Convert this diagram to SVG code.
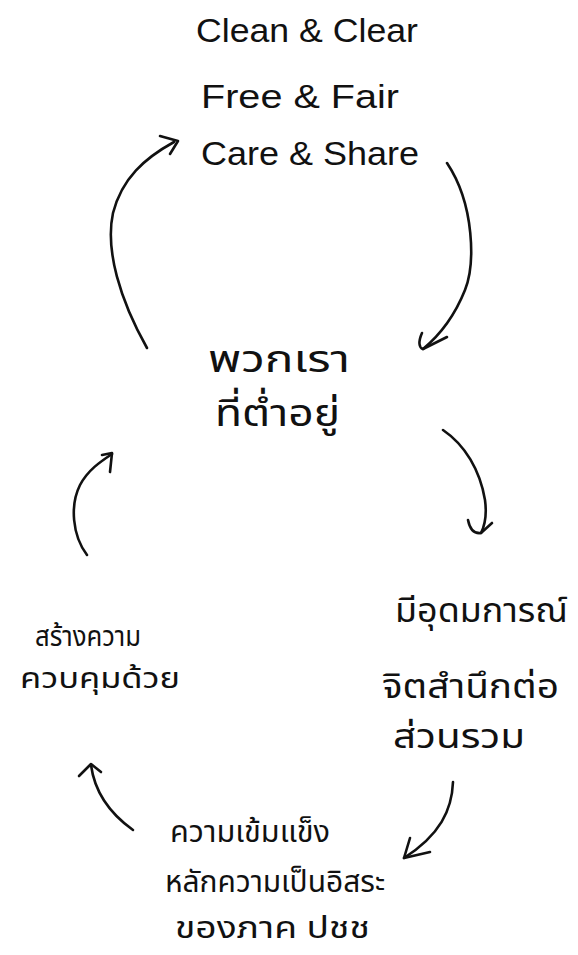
<svg xmlns="http://www.w3.org/2000/svg" width="578" height="955" viewBox="0 0 578 955">
<style>
.en{font-family:"Liberation Sans","Noto Sans",sans-serif;font-size:33px;fill:#111}
.th{font-family:"Noto Sans Thai","Noto Sans","DejaVu Sans",sans-serif;fill:#111}
.c{fill:none;stroke:#111;stroke-width:2.6;stroke-linecap:round;stroke-linejoin:round}
</style>
<rect width="578" height="955" fill="#fff"/>
<g id="slogan">
<text class="en" x="196" y="42" textLength="222" lengthAdjust="spacingAndGlyphs">Clean &amp; Clear</text>
<text class="en" x="201" y="108" textLength="198" lengthAdjust="spacingAndGlyphs">Free &amp; Fair</text>
<text class="en" x="201" y="165" textLength="218" lengthAdjust="spacingAndGlyphs">Care &amp; Share</text>
</g>
<g id="we">
<text class="th" x="208" y="372" font-size="38" textLength="142" lengthAdjust="spacingAndGlyphs">พวกเรา</text>
<text class="th" x="215" y="426" font-size="38" textLength="125" lengthAdjust="spacingAndGlyphs">ที่ต่ำอยู่</text>
</g>
<g id="ideology">
<text class="th" x="395" y="622" font-size="34" textLength="173" lengthAdjust="spacingAndGlyphs">มีอุดมการณ์</text>
<text class="th" x="382" y="698" font-size="34" textLength="177" lengthAdjust="spacingAndGlyphs">จิตสำนึกต่อ</text>
<text class="th" x="393" y="748" font-size="34" textLength="132" lengthAdjust="spacingAndGlyphs">ส่วนรวม</text>
</g>
<g id="strength">
<text class="th" x="170" y="842" font-size="31" textLength="160" lengthAdjust="spacingAndGlyphs">ความเข้มแข็ง</text>
<text class="th" x="165" y="892" font-size="31" textLength="220" lengthAdjust="spacingAndGlyphs">หลักความเป็นอิสระ</text>
<text class="th" x="175" y="938" font-size="31" textLength="195" lengthAdjust="spacingAndGlyphs">ของภาค ปชช</text>
</g>
<g id="control">
<text class="th" x="35" y="646" font-size="28" textLength="106" lengthAdjust="spacingAndGlyphs">สร้างความ</text>
<text class="th" x="20" y="688" font-size="28" textLength="160" lengthAdjust="spacingAndGlyphs">ควบคุมด้วย</text>
</g>
<g id="connectors">
<path class="c" d="M147,348 C120,300 105,250 113,213 C122,178 145,158 174,142"/>
<path class="c" d="M160,136 L178,141 L170,154"/>
<path class="c" d="M447,163 C475,205 475,265 465,290 C455,315 440,335 423,349"/>
<path class="c" d="M422,333 C418,342 419,348 423,349 L447,337"/>
<path class="c" d="M443,430 C465,445 480,470 485,500 C487,515 485,525 481,533"/>
<path class="c" d="M468,520 C470,530 474,534 481,533 L492,523"/>
<path class="c" d="M453,782 C452,810 440,835 404,858"/>
<path class="c" d="M410,838 L404,858 L430,852"/>
<path class="c" d="M133,830 C112,815 95,795 91,765"/>
<path class="c" d="M79,776 L91,764 L101,772"/>
<path class="c" d="M87,555 C72,535 70,505 80,485 C88,470 100,462 112,454"/>
<path class="c" d="M102,455 L112,453 L110,472"/>
</g>
</svg>
